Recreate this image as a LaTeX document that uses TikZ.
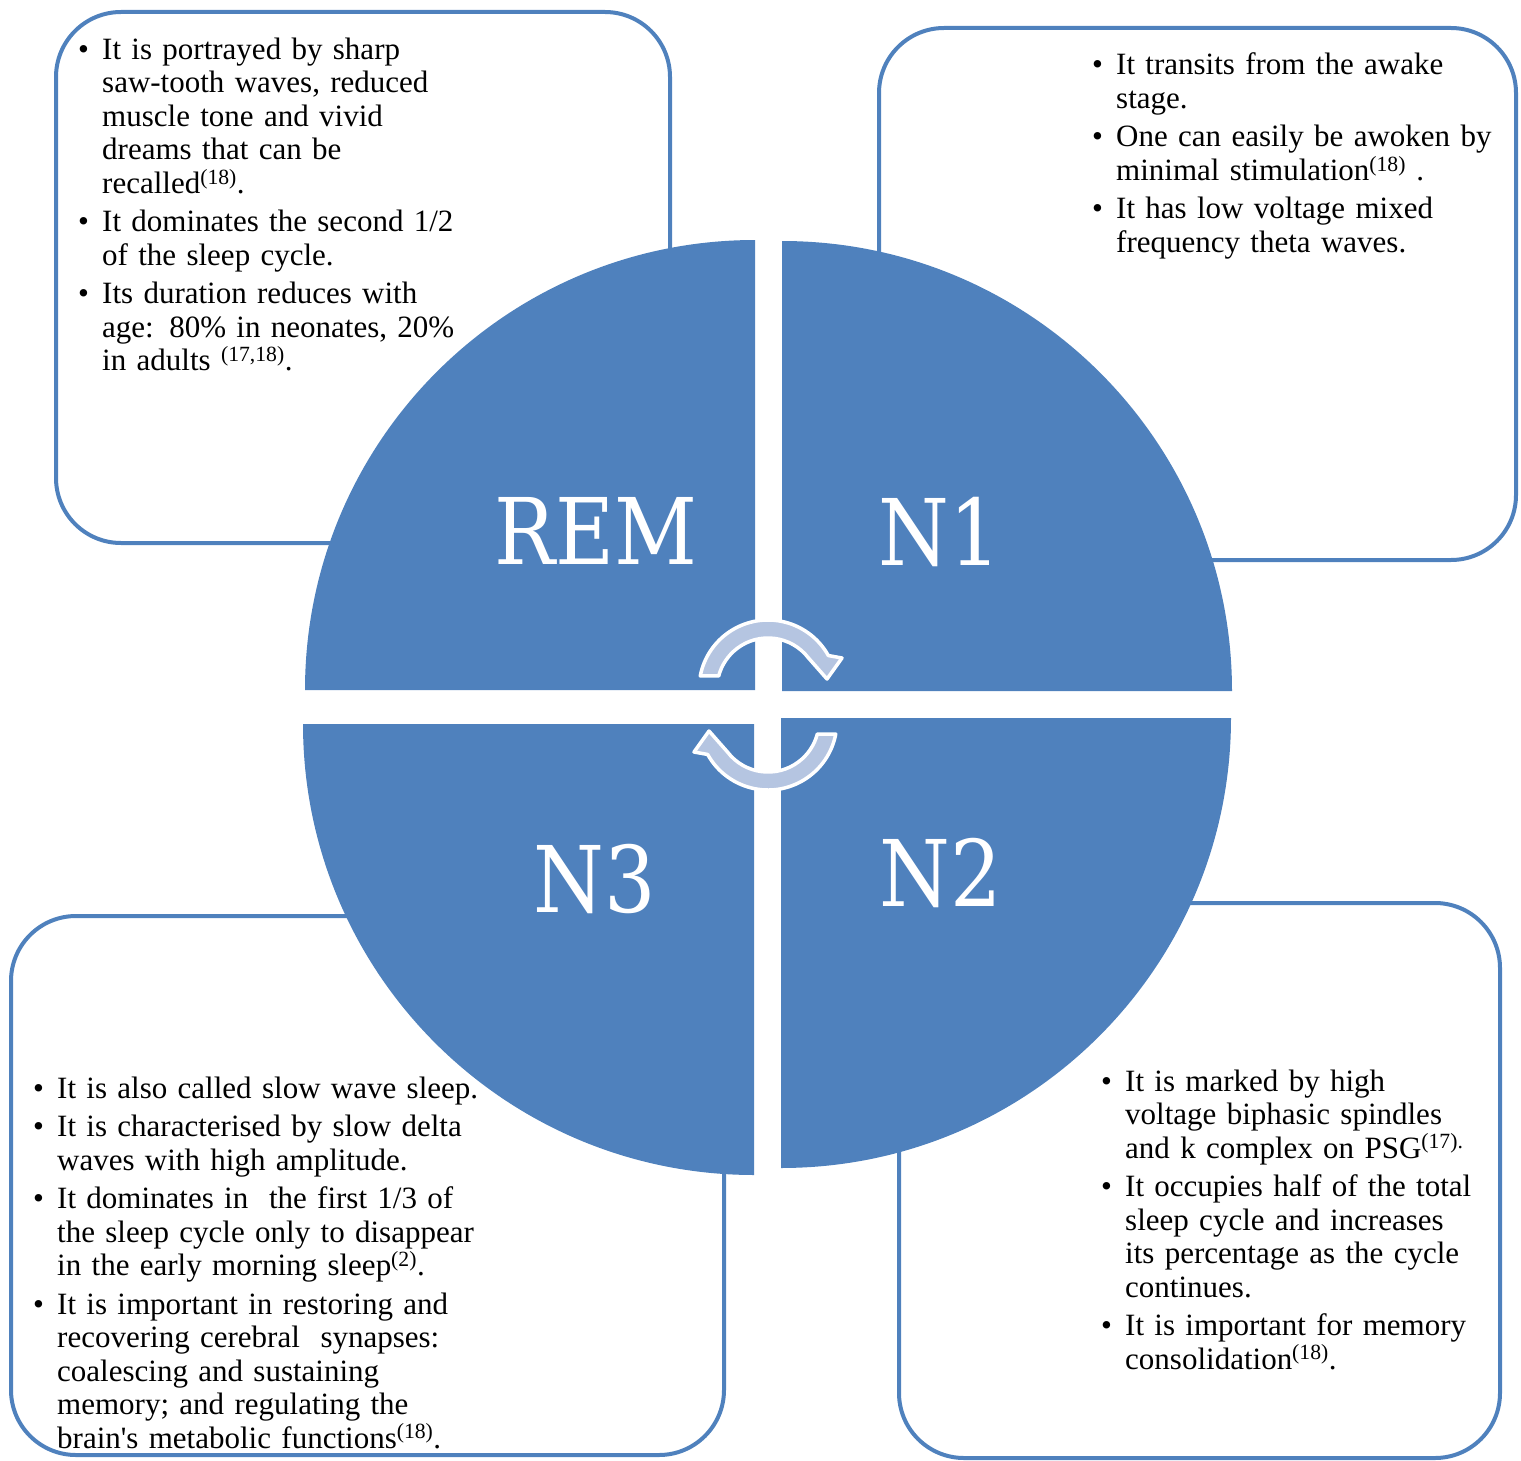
\documentclass[tikz,border=0pt]{standalone}
\usepackage{fontspec}
\setmainfont{Liberation Serif}[Ligatures=TeXOff]
\newfontfamily\bigfont[FakeStretch=0.88]{DejaVu Serif}
\definecolor{accent}{RGB}{79,129,189}
\definecolor{arrowc}{RGB}{181,197,225}
\newcommand\bitem[1]{\hangindent=24pt\hangafter=1\noindent\makebox[24pt][l]{\textbullet}#1\par}
\tikzset{
  boxline/.style={draw=accent, line width=4pt, rounded corners=65pt},
  qfill/.style={fill=accent},
  arrowband/.style={fill=arrowc, draw=white, line width=3.5pt, line join=round},
  biglabel/.style={text=white, inner sep=0pt, font=\bigfont\fontsize{92}{92}\selectfont},
  txt/.style={anchor=base west, inner sep=0pt, text width=520pt, align=left,
    font=\fontsize{31}{33.5}\selectfont, execute at begin node={\setlength{\parskip}{5pt}}}
}
\begin{document}
\begin{tikzpicture}[x=1pt,y=1pt]
\useasboundingbox (0,0) rectangle (1521,-1461);
% text boxes
\draw[boxline] (56,-12) rectangle (670,-543);
\draw[boxline] (879,-28) rectangle (1516,-560);
\draw[boxline] (11,-916) rectangle (724,-1455);
\draw[boxline] (899,-903) rectangle (1500,-1458);
% quadrants
\fill[qfill] (755,-690) -- (305,-690) arc[start angle=180,end angle=90,radius=450] -- cycle;
\fill[qfill] (782,-691) -- (782,-241) arc[start angle=90,end angle=0,radius=450] -- cycle;
\fill[qfill] (781,-718) -- (1231,-718) arc[start angle=0,end angle=-90,radius=450] -- cycle;
\fill[qfill] (754,-724) -- (754,-1175) arc[start angle=270,end angle=180,radius=451] -- cycle;
% cycle arrows
\filldraw[arrowband, shift={(768,-689)}] (169.1:69) arc[start angle=169.1,end angle=29,radius=69]
  -- (74,31) -- (59,10) -- (37.5:51) arc[start angle=37.5,end angle=165.2,radius=51] -- cycle;
\filldraw[arrowband, shift={(768,-721)}, rotate=180] (169.1:69) arc[start angle=169.1,end angle=29,radius=69]
  -- (74,31) -- (59,10) -- (37.5:51) arc[start angle=37.5,end angle=165.2,radius=51] -- cycle;
% labels
\node[biglabel] (rem) at (596,-531) {REM};
\node[biglabel] (n1) at (940,-532) {N1};
\node[biglabel] (n3) at (595,-879) {N3};
\node[biglabel] (n2) at (941,-873) {N2};
% texts
\node[txt] (trem) at (78,-59.5) {%
\bitem{It is portrayed by sharp\newline saw-tooth waves, reduced\newline muscle tone and vivid\newline dreams that can be\newline recalled\textsuperscript{(18)}.}
\bitem{It dominates the second 1/2\newline of the sleep cycle.}
\bitem{Its duration reduces with\newline age: 80\% in neonates, 20\%\newline in adults \textsuperscript{(17,18)}.}};
\node[txt] (tn1) at (1092,-75) {%
\bitem{It transits from the awake\newline stage.}
\bitem{One can easily be awoken by\newline minimal stimulation\textsuperscript{(18)} .}
\bitem{It has low voltage mixed\newline frequency theta waves.}};
\node[txt] (tn3) at (33,-1098) {%
\bitem{It is also called slow wave sleep.}
\bitem{It is characterised by slow delta\newline waves with high amplitude.}
\bitem{It dominates in\ \ the first 1/3 of\newline the sleep cycle only to disappear\newline in the early morning sleep\textsuperscript{(2)}.}
\bitem{It is important in restoring and\newline recovering cerebral\ \ synapses:\newline coalescing and sustaining\newline memory; and regulating the\newline brain's metabolic functions\textsuperscript{(18)}.}};
\node[txt] (tn2) at (1101,-1091) {%
\bitem{It is marked by high\newline voltage biphasic spindles\newline and k complex on PSG\textsuperscript{(17).}}
\bitem{It occupies half of the total\newline sleep cycle and increases\newline its percentage as the cycle\newline continues.}
\bitem{It is important for memory\newline consolidation\textsuperscript{(18)}.}};
\end{tikzpicture}
\end{document}
